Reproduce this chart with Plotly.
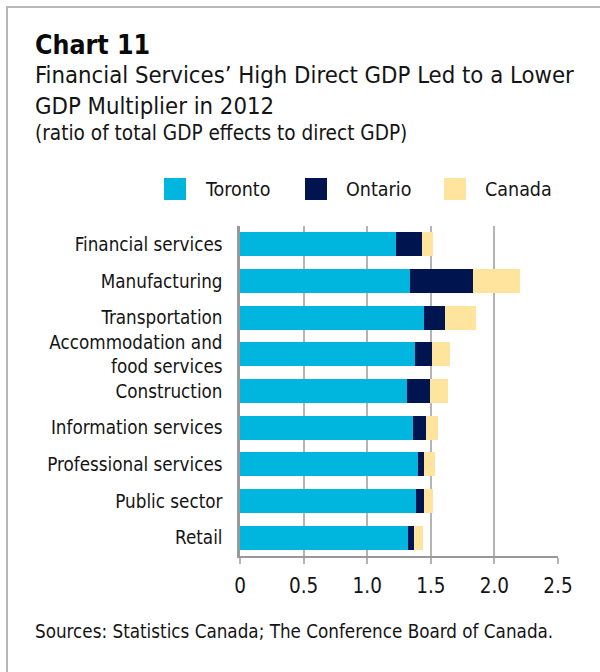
import plotly.graph_objects as go

# GDP multipliers by industry, 2012 (total GDP effects / direct GDP)
industries = [
    "Financial services",
    "Manufacturing",
    "Transportation",
    "Accommodation and<br>food services",
    "Construction",
    "Information services",
    "Professional services",
    "Public sector",
    "Retail",
]
toronto = [1.23, 1.34, 1.45, 1.375, 1.31, 1.36, 1.40, 1.385, 1.32]
ontario = [1.43, 1.83, 1.61, 1.51, 1.495, 1.46, 1.445, 1.445, 1.365]
canada = [1.52, 2.20, 1.855, 1.65, 1.635, 1.555, 1.535, 1.52, 1.44]

series_names = ["Toronto", "Ontario", "Canada"]
colors = ["#00B5DE", "#001450", "#FFE49E"]
x_ticks = [0, 0.5, 1.0, 1.5, 2.0, 2.5]
x_tick_text = ["0", "0.5", "1.0", "1.5", "2.0", "2.5"]

FONT = "Liberation Sans Narrow, Arial Narrow, DejaVu Sans Condensed, sans-serif"
TEXT = "#141414"
W, H = 600, 672
ML, MR, MT, MB = 240, 42, 226, 116
PW, PH = W - ML - MR, H - MT - MB


def px(x):
    return (x - ML) / PW


def py(y):
    return (H - MB - y) / PH


# stacked segments: each level adds its increment over the previous one
segments = [
    toronto,
    [o - t for o, t in zip(ontario, toronto)],
    [c - o for c, o in zip(canada, ontario)],
]

fig = go.Figure()
for name, seg, col, total in zip(series_names, segments, colors, [toronto, ontario, canada]):
    fig.add_trace(go.Bar(
        y=industries, x=seg, orientation="h", name=name,
        marker=dict(color=col, line=dict(width=0)),
        customdata=total,
        hovertemplate="%{y}<br>" + name + ": %{customdata:.2f}<extra></extra>",
    ))

fig.update_layout(
    width=W, height=H,
    margin=dict(l=ML, r=MR, t=MT, b=MB, pad=0),
    paper_bgcolor="white", plot_bgcolor="white",
    barmode="stack", bargap=0.34,
    showlegend=False,
    font=dict(family=FONT, color=TEXT),
    xaxis=dict(
        range=[0, 2.5], tickvals=x_ticks, ticktext=x_tick_text,
        showgrid=True, gridcolor="#b4b4b4", gridwidth=1.5,
        zeroline=False, showline=True, linecolor="#999999", linewidth=2,
        ticks="outside", ticklen=6, tickcolor="#b4b4b4", tickwidth=1.5,
        ticklabelstandoff=4,
        tickfont=dict(size=20.5, color=TEXT, family=FONT),
        fixedrange=True,
    ),
    yaxis=dict(
        categoryorder="array", categoryarray=industries, autorange="reversed",
        showline=True, linecolor="#999999", linewidth=2.5,
        showgrid=False, ticks="", ticklabelstandoff=11,
        tickfont=dict(size=18.7, color=TEXT, family=FONT),
        fixedrange=True,
    ),
)

# outer frame (top and left rules)
fig.add_shape(type="line", xref="paper", yref="paper",
              x0=px(6), x1=px(600), y0=py(7), y1=py(7),
              line=dict(color="#b8b8b8", width=2))
fig.add_shape(type="line", xref="paper", yref="paper",
              x0=px(7), x1=px(7), y0=py(7), y1=py(672),
              line=dict(color="#b8b8b8", width=2))

# headings
fig.add_annotation(text="<b>Chart 11</b>", xref="paper", yref="paper",
                   x=px(33), y=py(44), xanchor="left", yanchor="middle",
                   showarrow=False, font=dict(size=26.5, color="#0a0a0a"))
fig.add_annotation(text="Financial Services’ High Direct GDP Led to a Lower<br>GDP Multiplier in 2012",
                   xref="paper", yref="paper", x=px(33), y=py(90),
                   xanchor="left", yanchor="middle", align="left",
                   showarrow=False, font=dict(size=23.7, color=TEXT))
fig.add_annotation(text="(ratio of total GDP effects to direct GDP)",
                   xref="paper", yref="paper", x=px(33), y=py(133),
                   xanchor="left", yanchor="middle", align="left",
                   showarrow=False, font=dict(size=20.6, color=TEXT))
fig.add_annotation(text="Sources: Statistics Canada; The Conference Board of Canada.",
                   xref="paper", yref="paper", x=px(33), y=py(631),
                   xanchor="left", yanchor="middle", align="left",
                   showarrow=False, font=dict(size=18.7, color=TEXT))

# legend: colour swatches with labels
legend_x = [164, 305, 444]
for name, col, lx in zip(series_names, colors, legend_x):
    fig.add_shape(type="rect", xref="paper", yref="paper",
                  x0=px(lx), x1=px(lx + 22), y0=py(200), y1=py(178),
                  fillcolor=col, line=dict(width=0))
    fig.add_annotation(text=name, xref="paper", yref="paper",
                       x=px(lx + 39), y=py(189), xanchor="left", yanchor="middle",
                       showarrow=False, font=dict(size=19.5, color=TEXT))

fig.write_html("out.html")
